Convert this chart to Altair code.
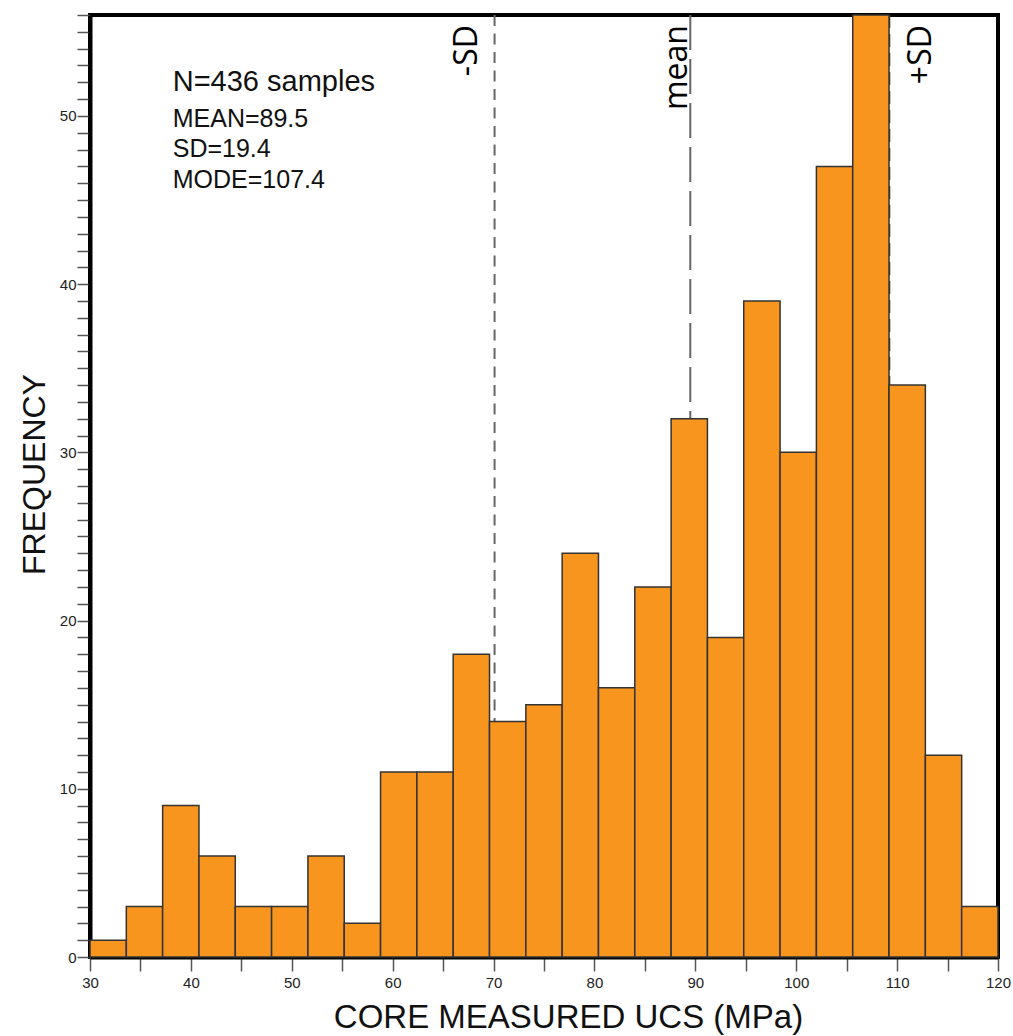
import altair as alt
import pandas as pd

# ---- data ----
bin_start = 30.0
bin_width = 3.6
counts = [1, 3, 9, 6, 3, 3, 6, 2, 11, 11, 18, 14, 15, 24, 16, 22, 32, 19, 39, 30, 47, 56, 34, 12, 3]

stat_names = ["-SD", "mean", "+SD"]
stat_values = [70.1, 89.5, 109.2]

summary_head = "N=436 samples"
summary_lines = ["MEAN=89.5", "SD=19.4", "MODE=107.4"]

x_tick_values = list(range(30, 121, 5))
y_tick_values = list(range(0, 57))

# ---- tables ----
bars = pd.DataFrame({
    "start": [bin_start + i * bin_width for i in range(len(counts))],
    "end": [bin_start + (i + 1) * bin_width for i in range(len(counts))],
    "count": counts,
})

xs = alt.Scale(domain=[30, 120], nice=False, zero=False)
ys = alt.Scale(domain=[0, 56], nice=False)

x_axis = alt.Axis(
    values=x_tick_values,
    tickCount=200,
    format="d",
    labelExpr="datum.value % 10 === 0 ? datum.label : ''",
    labelFlush=False,
    labelOverlap=False,
    tickSize=14, tickWidth=1.5, tickColor="#555",
    labelPadding=4, labelFont="Liberation Sans", labelFontSize=15, labelColor="#222",
    domainColor="black", domainWidth=4,
    grid=False,
    title="CORE MEASURED UCS (MPa)",
    titleFont="Liberation Sans", titleFontSize=33, titleFontWeight="normal", titleColor="#111",
    titleX=478, titleY=70, titleBaseline="alphabetic", titleAlign="center",
)
y_axis = alt.Axis(
    values=y_tick_values,
    tickCount=200,
    format="d",
    labelExpr="datum.value % 10 === 0 ? datum.label : ''",
    labelOverlap=False,
    tickSize=13, tickWidth=1.5, tickColor="#555",
    labelPadding=1, labelFont="Liberation Sans", labelFontSize=15, labelColor="#222",
    domainColor="black", domainWidth=4,
    grid=False,
    title="FREQUENCY",
    titleFont="Liberation Sans", titleFontSize=32, titleFontWeight="normal", titleColor="#111",
    titleX=-46, titleY=459, titleBaseline="alphabetic", titleAlign="center", titleAngle=270,
)

base = alt.Chart(bars)

hist = base.mark_bar(color="#F7951F", stroke="#333333", strokeWidth=1.5).encode(
    x=alt.X("start:Q", scale=xs, axis=x_axis),
    x2="end:Q",
    y=alt.Y("count:Q", scale=ys, axis=y_axis),
    y2=alt.datum(0),
)

def vline(i, color, width, dash):
    df = pd.DataFrame({"v": [stat_values[i]], "top": [56], "bot": [0]})
    return alt.Chart(df).mark_rule(color=color, strokeWidth=width, strokeDash=dash).encode(
        x=alt.X("v:Q", scale=xs), y=alt.Y("top:Q", scale=ys), y2="bot:Q"
    )

rule_m = vline(0, "#666666", 2, [11, 7.5])
rule_mean = vline(1, "#666666", 2, [35, 9])
rule_p = vline(2, "#333333", 2.5, [13, 6])

def vlabel(i, dy, baseline):
    df = pd.DataFrame({"v": [stat_values[i]], "yy": [55.4], "t": [stat_names[i]]})
    return alt.Chart(df).mark_text(
        angle=270, align="right", baseline=baseline, dy=dy,
        font="Open Sans", fontSize=32, color="black",
    ).encode(x=alt.X("v:Q", scale=xs), y=alt.Y("yy:Q", scale=ys), text="t:N")

lab_m = vlabel(0, -18, "alphabetic")
lab_mean = vlabel(1, -3, "alphabetic")
lab_p = vlabel(2, 17, "top")

head_df = pd.DataFrame({"x": [38.2], "y": [51.5], "t": [summary_head]})
head = alt.Chart(head_df).mark_text(
    align="left", baseline="alphabetic", font="Liberation Sans", fontSize=29, color="#111"
).encode(x=alt.X("x:Q", scale=xs), y=alt.Y("y:Q", scale=ys), text="t:N")

lines_df = pd.DataFrame({"x": [38.2] * 3, "y": [49.35, 47.55, 45.7], "t": summary_lines})
lines = alt.Chart(lines_df).mark_text(
    align="left", baseline="alphabetic", font="Liberation Sans", fontSize=25, color="#111"
).encode(x=alt.X("x:Q", scale=xs), y=alt.Y("y:Q", scale=ys), text="t:N")

chart = alt.layer(
    rule_m, rule_mean, rule_p, hist, lab_m, lab_mean, lab_p, head, lines
).properties(
    width=908, height=942,
    padding={"left": 90, "top": 15, "right": 15, "bottom": 79},
    autosize=alt.AutoSizeParams(type="none"),
    background="white",
).configure_view(stroke="black", strokeWidth=4)

chart.save("out.html", embed_options={"renderer": "svg", "actions": False})
